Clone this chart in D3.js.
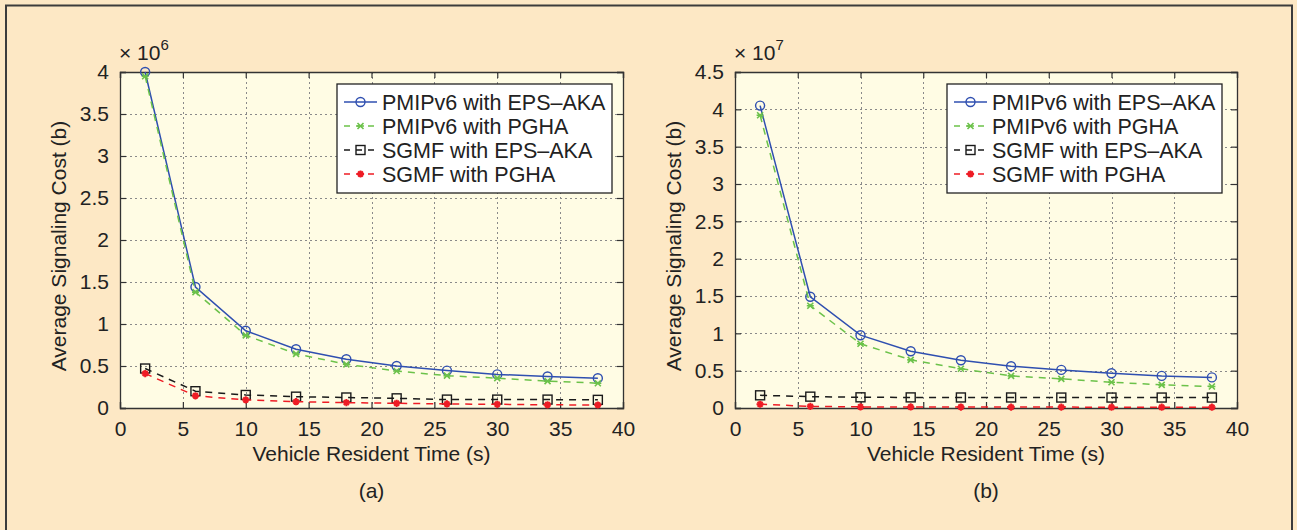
<!DOCTYPE html>
<html>
<head>
<meta charset="utf-8">
<script src="https://cdn.jsdelivr.net/npm/d3@7/dist/d3.min.js"></script>
<style>
  body { margin: 0; background: #FDE8C5; }
  svg { display: block; font-family: "Liberation Sans", Arial, Helvetica, sans-serif; }
</style>
</head>
<body>
<svg id="chart" width="1297" height="530"></svg>
<script>
// ---------- data ----------
const xValues = [2, 6, 10, 14, 18, 22, 26, 30, 34, 38];
const seriesNames = ["PMIPv6 with EPS\u2013AKA", "PMIPv6 with PGHA", "SGMF with EPS\u2013AKA", "SGMF with PGHA"];

// panel (a), units of 1e6
const aPmipEps  = [4.00, 1.44, 0.92, 0.70, 0.58, 0.50, 0.445, 0.40, 0.375, 0.355];
const aPmipPgha = [3.95, 1.38, 0.865, 0.645, 0.52, 0.44, 0.385, 0.355, 0.32, 0.295];
const aSgmfEps  = [0.47, 0.20, 0.155, 0.135, 0.125, 0.115, 0.10, 0.10, 0.10, 0.097];
const aSgmfPgha = [0.41, 0.145, 0.097, 0.075, 0.064, 0.056, 0.048, 0.044, 0.038, 0.036];

// panel (b), units of 1e7
const bPmipEps  = [4.05, 1.49, 0.975, 0.76, 0.64, 0.56, 0.51, 0.465, 0.43, 0.41];
const bPmipPgha = [3.92, 1.37, 0.86, 0.645, 0.525, 0.43, 0.39, 0.345, 0.31, 0.288];
const bSgmfEps  = [0.17, 0.152, 0.143, 0.142, 0.141, 0.141, 0.14, 0.14, 0.14, 0.14];
const bSgmfPgha = [0.05, 0.022, 0.015, 0.014, 0.013, 0.012, 0.012, 0.011, 0.011, 0.011];

const xTicks = [0, 5, 10, 15, 20, 25, 30, 35, 40];
const aYTicks = [0, 0.5, 1, 1.5, 2, 2.5, 3, 3.5, 4];
const bYTicks = [0, 0.5, 1, 1.5, 2, 2.5, 3, 3.5, 4, 4.5];

// ---------- styles ----------
const FS = 21;
const styles = [
  { color: "#2f4fb0", dash: null,  marker: "circle" },
  { color: "#6cc24a", dash: "7,6", marker: "xstar" },
  { color: "#1a1a1a", dash: "7,6", marker: "square" },
  { color: "#ee1c25", dash: "7,6", marker: "star" }
];

const svg = d3.select("#chart");
svg.append("rect").attr("x", 0).attr("y", 0).attr("width", 1297).attr("height", 530).attr("fill", "#FDE8C5");
svg.append("rect").attr("x", 6).attr("y", 5.5).attr("width", 1286).attr("height", 540)
  .attr("fill", "none").attr("stroke", "#3c3c3c").attr("stroke-width", 2);

function drawMarker(g, type, cx, cy, color) {
  if (type === "circle") {
    g.append("circle").attr("cx", cx).attr("cy", cy).attr("r", 4.5)
      .attr("fill", "none").attr("stroke", color).attr("stroke-width", 1.4);
  } else if (type === "square") {
    g.append("rect").attr("x", cx - 4.5).attr("y", cy - 4.5).attr("width", 9).attr("height", 9)
      .attr("fill", "none").attr("stroke", color).attr("stroke-width", 1.4);
  } else if (type === "xstar") {
    const s = 3;
    g.append("path").attr("d", `M${cx-s},${cy-s}L${cx+s},${cy+s}M${cx-s},${cy+s}L${cx+s},${cy-s}M${cx-s-0.5},${cy}L${cx+s+0.5},${cy}`)
      .attr("stroke", color).attr("stroke-width", 1.6);
  } else if (type === "star") {
    const s = 3.6;
    g.append("path").attr("d", `M${cx-s},${cy}L${cx+s},${cy}M${cx},${cy-s}L${cx},${cy+s}M${cx-2.5},${cy-2.5}L${cx+2.5},${cy+2.5}M${cx-2.5},${cy+2.5}L${cx+2.5},${cy-2.5}`)
      .attr("stroke", color).attr("stroke-width", 2);
  }
}

function panel(opts) {
  const { x0, x1, yTop, yBot, yMax, yTicks, series, exp, label, legendX } = opts;
  const g = svg.append("g");
  const x = d3.scaleLinear().domain([0, 40]).range([x0, x1]);
  const y = d3.scaleLinear().domain([0, yMax]).range([yBot, yTop]);

  g.append("rect").attr("x", x0).attr("y", yTop).attr("width", x1 - x0).attr("height", yBot - yTop)
    .attr("fill", "#FFFCE4");

  // grid
  const grid = g.append("g").attr("stroke", "#8a8a8a").attr("stroke-width", 1).attr("stroke-dasharray", "2,3");
  xTicks.slice(1, -1).forEach(t => {
    grid.append("line").attr("x1", Math.round(x(t)) + 0.5).attr("x2", Math.round(x(t)) + 0.5).attr("y1", yTop).attr("y2", yBot);
  });
  yTicks.slice(1, -1).forEach(t => {
    grid.append("line").attr("y1", Math.round(y(t)) + 0.5).attr("y2", Math.round(y(t)) + 0.5).attr("x1", x0).attr("x2", x1);
  });

  // axes with inward ticks
  const axB = d3.axisBottom(x).tickValues(xTicks).tickSize(-6).tickPadding(13).tickFormat(d3.format("d"));
  const axT = d3.axisTop(x).tickValues(xTicks).tickSize(-6).tickFormat("");
  const axL = d3.axisLeft(y).tickValues(yTicks).tickSize(-6).tickPadding(11).tickFormat(d => d3.format("~g")(d));
  const axR = d3.axisRight(y).tickValues(yTicks).tickSize(-6).tickFormat("");
  [[axB, `translate(0,${yBot})`], [axT, `translate(0,${yTop})`], [axL, `translate(${x0},0)`], [axR, `translate(${x1},0)`]]
    .forEach(([ax, tr]) => {
      const a = g.append("g").attr("transform", tr).call(ax);
      a.select(".domain").attr("stroke", "#333").attr("stroke-width", 1.3);
      a.selectAll(".tick line").attr("stroke", "#333").attr("stroke-width", 1.2);
      a.selectAll("text").attr("font-size", FS).attr("fill", "#222").attr("font-family", "Liberation Sans, Arial, sans-serif");
    });

  // series
  series.forEach((vals, i) => {
    const st = styles[i];
    const line = d3.line().x((d, j) => x(xValues[j])).y(d => y(d));
    g.append("path").datum(vals).attr("d", line).attr("fill", "none")
      .attr("stroke", st.color).attr("stroke-width", 1.5)
      .attr("stroke-dasharray", st.dash);
    const mg = g.append("g");
    vals.forEach((v, j) => drawMarker(mg, st.marker, x(xValues[j]), y(v), st.color));
  });

  // exponent label
  const ex = g.append("text").attr("x", x0 - 1).attr("y", 60).attr("fill", "#222").attr("font-size", FS);
  ex.append("tspan").text("\u00d7 10");
  ex.append("tspan").attr("dy", -10).attr("font-size", 15).text(exp);

  // axis titles
  const cx = (x0 + x1) / 2;
  g.append("text").attr("x", cx).attr("y", 461).attr("text-anchor", "middle").attr("font-size", FS).attr("fill", "#222")
    .text("Vehicle Resident Time (s)");
  g.append("text").attr("x", cx).attr("y", 498).attr("text-anchor", "middle").attr("font-size", FS).attr("fill", "#222")
    .text(label);
  g.append("text").attr("transform", `translate(${x0 - 54},${(yTop + yBot) / 2 + 6}) rotate(-90)`)
    .attr("text-anchor", "middle").attr("font-size", FS).attr("fill", "#222").text("Average Signaling Cost (b)");

  // legend
  const lx = legendX, ly = 84, lw = 275, lh = 109;
  const lg = g.append("g");
  lg.append("rect").attr("x", lx).attr("y", ly).attr("width", lw).attr("height", lh)
    .attr("fill", "#fff").attr("stroke", "#222").attr("stroke-width", 1.3);
  seriesNames.forEach((name, i) => {
    const st = styles[i];
    const ry = ly + 18 + i * 24;
    lg.append("line").attr("x1", lx + 7).attr("x2", lx + 40).attr("y1", ry).attr("y2", ry)
      .attr("stroke", st.color).attr("stroke-width", 1.5).attr("stroke-dasharray", st.dash ? "6,6" : null);
    drawMarker(lg, st.marker, lx + 23.5, ry, st.color);
    lg.append("text").attr("x", lx + 45).attr("y", ry + 8).attr("font-size", 21.5).attr("fill", "#222").text(name);
  });
}

panel({ x0: 120, x1: 623, yTop: 72, yBot: 408, yMax: 4, yTicks: aYTicks,
  series: [aPmipEps, aPmipPgha, aSgmfEps, aSgmfPgha], exp: "6", label: "(a)", legendX: 337 });
panel({ x0: 735, x1: 1237, yTop: 72, yBot: 408, yMax: 4.5, yTicks: bYTicks,
  series: [bPmipEps, bPmipPgha, bSgmfEps, bSgmfPgha], exp: "7", label: "(b)", legendX: 947 });
</script>
</body>
</html>
